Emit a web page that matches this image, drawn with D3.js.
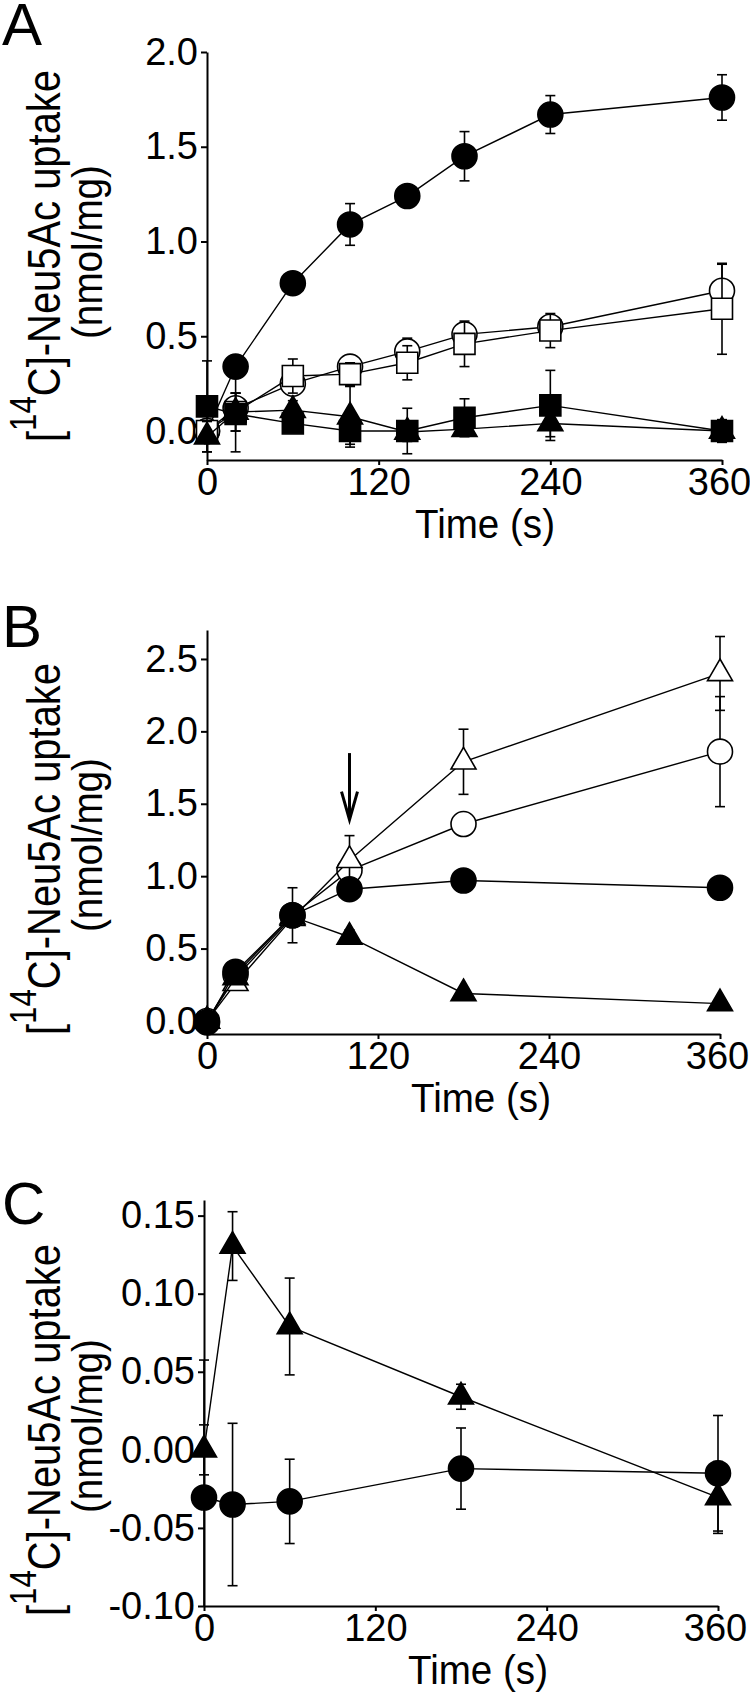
<!DOCTYPE html>
<html><head><meta charset="utf-8">
<script src="https://cdn.jsdelivr.net/npm/d3@7"></script>
<style>
html,body{margin:0;padding:0;background:#fff;}
svg{display:block;}
</style></head>
<body>
<script>
// ---------- DATA ----------
const timeTicks = [0, 120, 240, 360];
const timeTickLabels = ["0", "120", "240", "360"];

// Panel A
const timesA = [0, 20, 60, 100, 140, 180, 240, 360];
const aFilledCircle    = [0.00, 0.34, 0.78, 1.09, 1.24, 1.45, 1.67, 1.76];
const aFilledCircleErr = [0.02, 0.05, 0.02, 0.11, 0.02, 0.13, 0.10, 0.12];
const aOpenCircle      = [0.00, 0.12, 0.25, 0.34, 0.42, 0.51, 0.55, 0.74];
const aOpenCircleErr   = [0.03, 0.08, 0.06, 0.04, 0.07, 0.06, 0.06, 0.14];
const aOpenSquare      = [0.00, 0.10, 0.29, 0.30, 0.36, 0.46, 0.53, 0.645];
const aOpenSquareErr   = [0.05, 0.10, 0.09, 0.06, 0.09, 0.12, 0.09, 0.24];
const aFilledSquare    = [0.13, 0.09, 0.04, 0.00, 0.00, 0.07, 0.135, 0.00];
const aFilledSquareErr = [0.24, 0.20, 0.03, 0.07, 0.12, 0.10, 0.185, 0.06];
const aFilledTri       = [-0.03, 0.10, 0.11, 0.075, -0.005, 0.01, 0.04, 0.00];
const aFilledTriErr    = [0.08, 0.10, 0.05, 0.16, 0.05, 0.02, 0.07, 0.03];
const yTicksA = [0, 0.5, 1.0, 1.5, 2.0];
const yTickLabelsA = ["0.0", "0.5", "1.0", "1.5", "2.0"];

// Panel B
const timesB = [0, 20, 60, 100, 180, 360];
const bOpenCircle     = [0.00, 0.32, 0.73, 1.04, 1.36, 1.86];
const bOpenCircleErr  = [0.02, 0.05, 0.05, 0.04, 0.04, 0.38];
const bOpenTri        = [0.00, 0.26, 0.71, 1.11, 1.79, 2.40];
const bOpenTriErr     = [0.02, 0.04, 0.05, 0.17, 0.225, 0.255];
const bFilledTri      = [0.00, 0.30, 0.72, 0.58, 0.19, 0.12];
const bFilledTriErr   = [0.02, 0.03, 0.05, 0.05, 0.02, 0.02];
const bFilledCircle   = [-0.01, 0.34, 0.73, 0.91, 0.97, 0.92];
const bFilledCircleErr= [0.02, 0.03, 0.19, 0.03, 0.03, 0.03];
const yTicksB = [0, 0.5, 1.0, 1.5, 2.0, 2.5];
const yTickLabelsB = ["0.0", "0.5", "1.0", "1.5", "2.0", "2.5"];
const arrowB = {t: 100, from: 1.85, to: 1.39};

// Panel C
const timesC = [0, 20, 60, 180, 360];
const cFilledTri       = [0.000, 0.1305, 0.079, 0.034, -0.0305];
const cFilledTriErr    = [0.016, 0.022, 0.031, 0.008, 0.023];
const cFilledCircle    = [-0.0305, -0.035, -0.033, -0.012, -0.015];
const cFilledCircleErr = [0.088, 0.052, 0.027, 0.026, 0.037];
const yTicksC = [-0.10, -0.05, 0.00, 0.05, 0.10, 0.15];
const yTickLabelsC = ["-0.10", "-0.05", "0.00", "0.05", "0.10", "0.15"];

// ---------- DRAWING ----------
const W = 750, H = 1706;
const NARROW = '"Liberation Sans Narrow","Arial Narrow","Liberation Sans",Arial,sans-serif';
const REG = '"Liberation Sans",Arial,sans-serif';

const svg = d3.select("body").append("svg").attr("width", W).attr("height", H);

const panels = [
  { letter: "A", letterY: 45, x0: 207, x1: 722, yTop: 52, yBot: 460, yDom: [-0.153, 2.0],
    titleCY: 256, timeX: 485,
    ticks: yTicksA, tickLabels: yTickLabelsA, times: timesA,
    series: [
      {vals: aFilledCircle, err: aFilledCircleErr, shape: "circle", fill: true},
      {vals: aOpenCircle, err: aOpenCircleErr, shape: "circle", fill: false},
      {vals: aOpenSquare, err: aOpenSquareErr, shape: "square", fill: false},
      {vals: aFilledSquare, err: aFilledSquareErr, shape: "square", fill: true},
      {vals: aFilledTri, err: aFilledTriErr, shape: "triangle", fill: true}
    ]},
  { letter: "B", letterY: 647, x0: 207, x1: 720, yTop: 630, yBot: 1034, yDom: [-0.09, 2.7],
    titleCY: 849, timeX: 481,
    ticks: yTicksB, tickLabels: yTickLabelsB, times: timesB, arrow: arrowB,
    series: [
      {vals: bOpenCircle, err: bOpenCircleErr, shape: "circle", fill: false},
      {vals: bOpenTri, err: bOpenTriErr, shape: "triangle", fill: false},
      {vals: bFilledTri, err: bFilledTriErr, shape: "triangle", fill: true},
      {vals: bFilledCircle, err: bFilledCircleErr, shape: "circle", fill: true}
    ]},
  { letter: "C", letterY: 1224, x0: 204, x1: 718, yTop: 1200, yBot: 1606, yDom: [-0.10, 0.16],
    titleCY: 1430, timeX: 478,
    ticks: yTicksC, tickLabels: yTickLabelsC, times: timesC,
    series: [
      {vals: cFilledCircle, err: cFilledCircleErr, shape: "circle", fill: true},
      {vals: cFilledTri, err: cFilledTriErr, shape: "triangle", fill: true}
    ]}
];

const symbolOf = {
  circle: d3.symbol().type(d3.symbolCircle).size(Math.PI * 12.5 * 12.5),
  square: d3.symbol().type(d3.symbolSquare).size(21 * 21),
  triangle: d3.symbol().type(d3.symbolTriangle).size(0.433 * 25 * 25)
};

panels.forEach(p => {
  const x = d3.scaleLinear().domain([0, 360]).range([p.x0, p.x1]);
  const y = d3.scaleLinear().domain(p.yDom).range([p.yBot, p.yTop]);
  const g = svg.append("g");

  // panel letter
  g.append("text").attr("x", 2).attr("y", p.letterY)
    .attr("font-family", REG).attr("font-size", 60).text(p.letter);

  // y axis
  const yAxis = g.append("g").attr("transform", `translate(${p.x0},0)`)
    .call(d3.axisLeft(y).tickValues(p.ticks).tickSize(6).tickSizeOuter(0).tickPadding(3)
      .tickFormat((d, i) => p.tickLabels[i]));
  // x axis
  const xAxis = g.append("g").attr("transform", `translate(0,${p.yBot})`)
    .call(d3.axisBottom(x).tickValues(timeTicks).tickSize(5).tickSizeOuter(0).tickPadding(3)
      .tickFormat((d, i) => timeTickLabels[i]));
  [yAxis, xAxis].forEach(a => {
    a.select(".domain").attr("stroke", "#000").attr("stroke-width", 2);
    a.selectAll(".tick line").attr("stroke", "#000").attr("stroke-width", 2);
    a.selectAll(".tick text").attr("fill", "#000").attr("font-family", NARROW).attr("font-size", 38);
  });
  xAxis.selectAll(".tick text").filter((d, i) => i === timeTicks.length - 1).attr("dx", -3);

  // axis titles
  g.append("text").attr("x", p.timeX).attr("y", p.yBot + 78).attr("text-anchor", "middle")
    .attr("font-family", REG).attr("font-size", 41)
    .attr("textLength", 140).attr("lengthAdjust", "spacingAndGlyphs").text("Time (s)");
  const t1 = g.append("text").attr("transform", `translate(60,${p.titleCY}) rotate(-90)`)
    .attr("text-anchor", "middle").attr("font-family", REG).attr("font-size", 46)
    .attr("textLength", 372).attr("lengthAdjust", "spacingAndGlyphs");
  t1.append("tspan").text("[");
  t1.append("tspan").attr("baseline-shift", 24).attr("font-size", 36).text("14");
  t1.append("tspan").text("C]-Neu5Ac uptake");
  g.append("text").attr("transform", `translate(102,${p.titleCY - 4}) rotate(-90)`)
    .attr("text-anchor", "middle").attr("font-family", REG).attr("font-size", 43)
    .attr("textLength", 174).attr("lengthAdjust", "spacingAndGlyphs")
    .text("(nmol/mg)");

  // series
  const [dMin, dMax] = p.yDom;
  p.series.forEach(s => {
    const pts = p.times.map((t, i) => ({t, v: s.vals[i], e: s.err[i]}));
    const sg = g.append("g");
    pts.forEach(d => {
      if (!d.e) return;
      const hi = Math.min(d.v + d.e, dMax), lo = Math.max(d.v - d.e, dMin);
      const xx = x(d.t);
      sg.append("line").attr("x1", xx).attr("x2", xx).attr("y1", y(hi)).attr("y2", y(lo))
        .attr("stroke", "#000").attr("stroke-width", 1.6);
      [[d.v + d.e, hi], [d.v - d.e, lo]].forEach(([raw, c]) => {
        if (raw === c) sg.append("line").attr("x1", xx - 5).attr("x2", xx + 5)
          .attr("y1", y(c)).attr("y2", y(c)).attr("stroke", "#000").attr("stroke-width", 1.6);
      });
    });
    sg.append("path").datum(pts)
      .attr("d", d3.line().x(d => x(d.t)).y(d => y(d.v)))
      .attr("fill", "none").attr("stroke", "#000").attr("stroke-width", 1.4);
    sg.selectAll("path.sym").data(pts).join("path").attr("class", "sym")
      .attr("transform", d => `translate(${x(d.t)},${y(d.v)})`)
      .attr("d", symbolOf[s.shape])
      .attr("fill", s.fill ? "#000" : "#fff")
      .attr("stroke", "#000").attr("stroke-width", 1.6);
  });

  // arrow
  if (p.arrow) {
    const ax = x(p.arrow.t), ya = y(p.arrow.from), yb = y(p.arrow.to);
    g.append("line").attr("x1", ax).attr("x2", ax).attr("y1", ya).attr("y2", yb - 2)
      .attr("stroke", "#000").attr("stroke-width", 3);
    g.append("path").attr("d", `M${ax - 8},${yb - 28}L${ax},${yb}L${ax + 8},${yb - 28}`)
      .attr("fill", "none").attr("stroke", "#000").attr("stroke-width", 3);
  }
});
</script>
</body></html>
